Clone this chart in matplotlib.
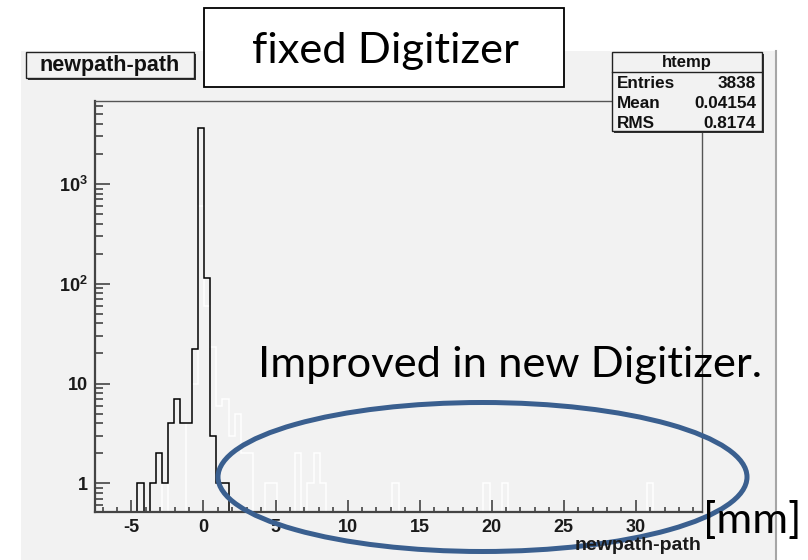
import numpy as np
import matplotlib
matplotlib.use('Agg')
import matplotlib.pyplot as plt
from matplotlib.patches import Rectangle, Ellipse
from matplotlib.ticker import FixedLocator, FixedFormatter, MultipleLocator, LogLocator, NullFormatter

plt.rcParams['font.family'] = ['Liberation Sans', 'DejaVu Sans']
plt.rcParams['mathtext.fontset'] = 'custom'
plt.rcParams['mathtext.rm'] = 'Liberation Sans:bold'
plt.rcParams['mathtext.it'] = 'Liberation Sans:bold'
plt.rcParams['mathtext.bf'] = 'Liberation Sans:bold'

# htemp binning (100 bins)
x_min, x_max, n_bins = -7.53, 34.6, 100

# fixed digitizer (black outline)
black_bins = [7, 9, 10, 11, 12, 13, 14, 15, 16, 17, 18, 19, 20, 21]
black_counts = [1, 1, 2, 1, 4, 7, 4, 4, 22, 3630, 115, 3, 1, 1]

# old digitizer (white outline, drawn behind)
white_bins = [11, 15, 16, 17, 18, 19, 20, 21, 22, 23, 24, 25, 28, 29, 33, 35, 36, 37, 49, 64, 67, 91]
white_counts = [1, 4, 10, 600, 60, 23, 6, 7, 3, 5, 2, 2, 1, 1, 2, 1, 2, 1, 1, 1, 1, 1]

y_ticks = [1, 10, 100, 1000]
y_labels = ['1', '10', '$10^{2}$', '$10^{3}$']
x_ticks = [-5, 0, 5, 10, 15, 20, 25, 30]
x_labels = ['-5', '0', '5', '10', '15', '20', '25', '30']

stat_names = ['Entries', 'Mean', 'RMS']
stat_values = ['3838', '0.04154', '0.8174']

W, H = 808, 560
pad_col = '#f2f2f2'
big_font = ['Lato', 'DejaVu Sans']

fig = plt.figure(figsize=(W / 100, H / 100), dpi=100)

# pad background (pixel coords)
bg = fig.add_axes([0, 0, 1, 1], zorder=-1)
bg.set_xlim(0, W)
bg.set_ylim(H, 0)
bg.axis('off')
bg.add_patch(Rectangle((21, 51), 755, 509, fc=pad_col, ec='none'))
bg.plot([776, 776], [51, 560], color='#a6a6a6', lw=1.5)

# histogram frame
ax = fig.add_axes([95 / W, 1 - 512 / H, 607 / W, 411 / H], zorder=1)
ax.set_facecolor(pad_col)

edges = np.linspace(x_min, x_max, n_bins + 1)
black = np.zeros(n_bins)
black[black_bins] = black_counts
white = np.zeros(n_bins)
white[white_bins] = white_counts

floor = 1e-3
ax.stairs(np.maximum(white, floor), edges, baseline=floor, color='white', lw=1.1)
ax.stairs(np.maximum(black, floor), edges, baseline=floor, color='black', lw=1.1)

ax.set_yscale('log')
ax.set_xlim(x_min, x_max)
ax.set_ylim(0.515, 6800)

ax.yaxis.set_major_locator(FixedLocator(y_ticks))
ax.yaxis.set_major_formatter(FixedFormatter(y_labels))
ax.yaxis.set_minor_locator(LogLocator(base=10, subs=np.arange(2, 10)))
ax.yaxis.set_minor_formatter(NullFormatter())
ax.xaxis.set_major_locator(FixedLocator(x_ticks))
ax.xaxis.set_major_formatter(FixedFormatter(x_labels))
ax.xaxis.set_minor_locator(MultipleLocator(1))

ax.tick_params(which='both', direction='in', color='#444444', width=1.2,
               top=False, right=False, labelcolor='#1a1a1a')
ax.tick_params(axis='y', which='major', length=10.8, pad=5)
ax.tick_params(axis='y', which='minor', length=6)
ax.tick_params(axis='x', which='major', length=8.6, pad=5)
ax.tick_params(axis='x', which='minor', length=3.8)
for lab in ax.get_xticklabels() + ax.get_yticklabels():
    lab.set_fontsize(13)
    lab.set_fontweight('bold')

for s in ['left', 'bottom']:
    ax.spines[s].set_color('#444444')
    ax.spines[s].set_linewidth(1.6)
for s in ['top', 'right']:
    ax.spines[s].set_color('#555555')
    ax.spines[s].set_linewidth(1.0)

# overlay: slide annotations and ROOT boxes (pixel coords)
ov = fig.add_axes([0, 0, 1, 1], zorder=2)
ov.set_xlim(0, W)
ov.set_ylim(H, 0)
ov.axis('off')

ov.text(702, 545, 'newpath-path', ha='right', va='center', fontsize=14,
        fontweight='bold', color='#1a1a1a')

# title box
ov.add_patch(Rectangle((28, 54), 168, 26, fc='#333333', ec='none'))
ov.add_patch(Rectangle((26, 52), 168, 26, fc=pad_col, ec='#222222', lw=1.0))
ov.text(110, 65.5, 'newpath-path', ha='center', va='center', fontsize=15.5,
        fontweight='bold', color='#111111')

# stats box
ov.add_patch(Rectangle((614, 54), 150, 79, fc='#333333', ec='none'))
ov.add_patch(Rectangle((612, 52), 150, 79, fc=pad_col, ec='#222222', lw=1.0))
ov.plot([612, 762], [72, 72], color='#222222', lw=1.0)
ov.text(687, 62, 'htemp', ha='center', va='center', fontsize=12,
        fontweight='bold', color='#111111')
for i, (nm, val) in enumerate(zip(stat_names, stat_values)):
    yy = 84 + i * 19.5
    ov.text(617, yy, nm, ha='left', va='center', fontsize=12.3, fontweight='bold', color='#111111')
    ov.text(756, yy, val, ha='right', va='center', fontsize=12.3, fontweight='bold', color='#111111')

# "fixed Digitizer" label
ov.add_patch(Rectangle((204, 8), 360, 79, fc='white', ec='black', lw=1.3))
ov.text(385, 63, 'fixed Digitizer', ha='center', va='baseline', fontsize=31.3,
        family=big_font, color='black')

ov.text(258, 377, 'Improved in new Digitizer.', ha='left', va='baseline',
        fontsize=31.3, family=big_font, color='black')
ov.text(703, 533, '[mm]', ha='left', va='baseline', fontsize=31.3,
        family=big_font, color='black')

ov.add_patch(Ellipse((482.5, 477), 529, 149, fc='none', ec='#3a5f8f', lw=3.6))

fig.savefig('out.png', dpi=100)
